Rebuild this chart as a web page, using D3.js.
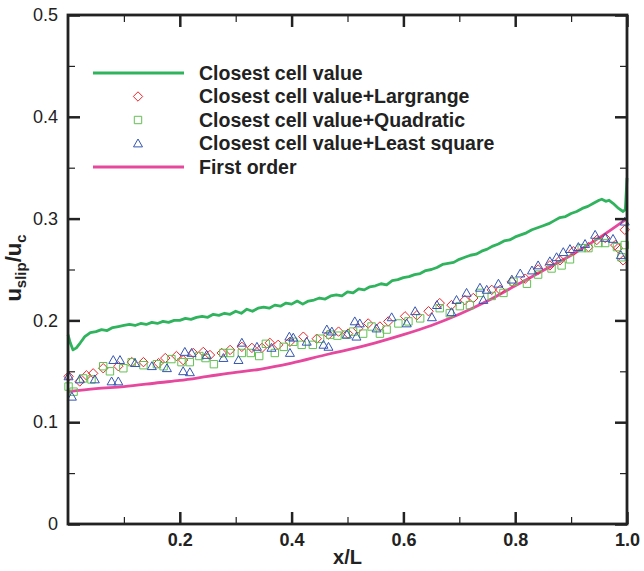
<!DOCTYPE html>
<html>
<head>
<meta charset="utf-8">
<script src="https://cdn.jsdelivr.net/npm/d3@7"></script>
<style>
  body { margin: 0; background: #fff; }
  svg { font-family: "Liberation Sans", Arial, sans-serif; }
</style>
</head>
<body>
<div id="chart"></div>
<script>
// values
const closestCell = [[0,0.186],[0.004,0.178],[0.009,0.171],[0.015,0.173],[0.022,0.178],[0.03,0.184],[0.04,0.188],[0.05,0.189],[0.06,0.191],[0.07,0.190],[0.08,0.193],[0.09,0.194],[0.1,0.195],[0.11,0.196],[0.12,0.195],[0.13,0.197],[0.14,0.196],[0.15,0.198],[0.16,0.197],[0.17,0.199],[0.18,0.198],[0.19,0.200],[0.2,0.200],[0.21,0.202],[0.22,0.201],[0.23,0.203],[0.24,0.204],[0.25,0.203],[0.26,0.206],[0.27,0.205],[0.28,0.207],[0.29,0.206],[0.3,0.209],[0.31,0.207],[0.32,0.211],[0.33,0.209],[0.34,0.212],[0.35,0.213],[0.36,0.212],[0.37,0.215],[0.38,0.214],[0.39,0.217],[0.4,0.216],[0.41,0.219],[0.42,0.216],[0.43,0.219],[0.44,0.220],[0.45,0.222],[0.46,0.221],[0.47,0.224],[0.48,0.225],[0.49,0.224],[0.5,0.228],[0.51,0.227],[0.52,0.231],[0.53,0.230],[0.54,0.233],[0.55,0.234],[0.56,0.236],[0.57,0.235],[0.58,0.239],[0.59,0.240],[0.6,0.242],[0.61,0.243],[0.62,0.245],[0.63,0.246],[0.64,0.249],[0.65,0.250],[0.66,0.252],[0.67,0.255],[0.68,0.256],[0.69,0.257],[0.7,0.260],[0.71,0.262],[0.72,0.264],[0.73,0.265],[0.74,0.268],[0.75,0.270],[0.76,0.273],[0.77,0.275],[0.78,0.278],[0.79,0.279],[0.8,0.282],[0.81,0.284],[0.82,0.286],[0.83,0.289],[0.84,0.291],[0.85,0.293],[0.86,0.295],[0.87,0.298],[0.88,0.301],[0.89,0.302],[0.9,0.305],[0.91,0.307],[0.92,0.310],[0.93,0.312],[0.94,0.315],[0.95,0.318],[0.955,0.319],[0.962,0.317],[0.968,0.318],[0.975,0.315],[0.985,0.310],[0.993,0.307],[0.997,0.309],[1.0,0.340]]

const firstOrder = [[0,0.130],[0.05,0.133],[0.1,0.135],[0.165,0.139],[0.2,0.141],[0.25,0.145],[0.3,0.149],[0.343,0.152],[0.4,0.158],[0.467,0.167],[0.5,0.171],[0.55,0.178],[0.6,0.186],[0.65,0.195],[0.7,0.206],[0.75,0.219],[0.8,0.234],[0.85,0.249],[0.9,0.264],[0.95,0.281],[1.0,0.300]]

const lagrange = [[0.001,0.145],[0.021,0.140],[0.033,0.146],[0.045,0.148],[0.063,0.153],[0.090,0.155],[0.114,0.159],[0.135,0.159],[0.162,0.158],[0.174,0.163],[0.194,0.165],[0.206,0.161],[0.224,0.168],[0.242,0.169],[0.254,0.166],[0.275,0.168],[0.290,0.171],[0.311,0.174],[0.329,0.173],[0.347,0.173],[0.361,0.178],[0.376,0.176],[0.397,0.179],[0.421,0.184],[0.445,0.182],[0.466,0.186],[0.484,0.189],[0.501,0.187],[0.519,0.192],[0.537,0.197],[0.558,0.194],[0.573,0.199],[0.603,0.204],[0.624,0.205],[0.645,0.209],[0.665,0.217],[0.686,0.215],[0.710,0.220],[0.725,0.222],[0.758,0.230],[0.773,0.230],[0.794,0.238],[0.818,0.241],[0.841,0.250],[0.862,0.254],[0.880,0.259],[0.904,0.268],[0.931,0.272],[0.946,0.279],[0.961,0.281],[0.979,0.274],[0.984,0.271],[0.993,0.259],[0.996,0.289]]

const quadratic = [[0.001,0.135],[0.010,0.130],[0.027,0.143],[0.042,0.142],[0.063,0.155],[0.075,0.150],[0.099,0.153],[0.114,0.159],[0.135,0.156],[0.159,0.157],[0.171,0.155],[0.185,0.162],[0.203,0.159],[0.218,0.159],[0.235,0.165],[0.246,0.163],[0.261,0.157],[0.278,0.168],[0.290,0.168],[0.311,0.168],[0.327,0.168],[0.342,0.165],[0.354,0.177],[0.370,0.168],[0.386,0.174],[0.403,0.179],[0.418,0.176],[0.438,0.176],[0.451,0.182],[0.469,0.186],[0.482,0.185],[0.497,0.186],[0.510,0.189],[0.528,0.187],[0.543,0.194],[0.558,0.187],[0.570,0.191],[0.591,0.197],[0.609,0.199],[0.630,0.202],[0.665,0.212],[0.683,0.207],[0.701,0.214],[0.719,0.215],[0.737,0.227],[0.758,0.224],[0.779,0.227],[0.797,0.238],[0.821,0.236],[0.841,0.245],[0.865,0.251],[0.883,0.254],[0.898,0.260],[0.919,0.271],[0.931,0.271],[0.949,0.276],[0.961,0.276],[0.982,0.272],[0.990,0.262],[0.996,0.274]]

const leastSquare = [[0.001,0.145],[0.007,0.125],[0.021,0.142],[0.048,0.142],[0.078,0.140],[0.081,0.161],[0.090,0.140],[0.093,0.161],[0.120,0.158],[0.150,0.155],[0.177,0.153],[0.206,0.150],[0.209,0.169],[0.218,0.149],[0.221,0.168],[0.248,0.166],[0.278,0.163],[0.305,0.161],[0.311,0.178],[0.338,0.174],[0.364,0.173],[0.396,0.184],[0.397,0.168],[0.403,0.183],[0.427,0.179],[0.457,0.176],[0.463,0.191],[0.466,0.174],[0.472,0.189],[0.499,0.186],[0.513,0.199],[0.516,0.184],[0.522,0.197],[0.552,0.192],[0.579,0.203],[0.606,0.197],[0.621,0.209],[0.651,0.203],[0.660,0.215],[0.686,0.208],[0.695,0.220],[0.713,0.227],[0.737,0.232],[0.743,0.220],[0.749,0.230],[0.770,0.236],[0.794,0.240],[0.809,0.246],[0.830,0.249],[0.841,0.254],[0.862,0.258],[0.874,0.262],[0.886,0.267],[0.898,0.270],[0.913,0.272],[0.925,0.275],[0.943,0.284],[0.961,0.281],[0.975,0.280],[0.989,0.264],[0.996,0.297]]

const xMajor = [0.2, 0.4, 0.6, 0.8, 1.0]
const xMinor = [0.1, 0.3, 0.5, 0.7, 0.9]
const yMajor = [0, 0.1, 0.2, 0.3, 0.4, 0.5]
const yMinor = [0.05, 0.15, 0.25, 0.35, 0.45]

const legendNames = ['Closest cell value', 'Closest cell value+Largrange', 'Closest cell value+Quadratic', 'Closest cell value+Least square', 'First order']

const width = 644, height = 571
const margin = { top: 15, right: 17, bottom: 47, left: 68 }
const w = width - margin.left - margin.right
const h = height - margin.top - margin.bottom

const GREEN = '#2fb35c', PINK = '#e6489e', RED = '#e8262d', LGREEN = '#63c154', BLUE = '#3555b3'

const svg = d3.select('#chart').append('svg')
  .attr('width', width).attr('height', height)
const g = svg.append('g').attr('transform', 'translate(' + margin.left + ',' + margin.top + ')')

const x = d3.scaleLinear().domain([0, 1]).range([0, w])
const y = d3.scaleLinear().domain([0, 0.5]).range([h, 0])

// lines
g.append('path').datum(firstOrder)
  .attr('d', d3.line().x(d => x(d[0])).y(d => y(d[1])).curve(d3.curveMonotoneX))
  .attr('fill', 'none').attr('stroke', PINK).attr('stroke-width', 2.8)
g.append('path').datum(closestCell)
  .attr('d', d3.line().x(d => x(d[0])).y(d => y(d[1])))
  .attr('fill', 'none').attr('stroke', GREEN).attr('stroke-width', 2.8)
  .attr('stroke-linejoin', 'round')

// markers
function diamond (s) { return 'M0,' + (-s) + 'L' + s + ',0L0,' + s + 'L' + (-s) + ',0Z' }
function square (s) { return 'M' + (-s) + ',' + (-s) + 'h' + 2 * s + 'v' + 2 * s + 'h' + (-2 * s) + 'Z' }
function triangle (s) { return 'M0,' + (-s) + 'L' + s + ',' + (s * 0.75) + 'L' + (-s) + ',' + (s * 0.75) + 'Z' }

const markerSets = [
  { data: lagrange, path: diamond(4.7), color: RED },
  { data: quadratic, path: square(3.7), color: LGREEN },
  { data: leastSquare, path: triangle(4.5), color: BLUE }
]
markerSets.forEach(function (m) {
  g.selectAll(null).data(m.data).enter().append('path')
    .attr('d', m.path)
    .attr('transform', d => 'translate(' + x(d[0]) + ',' + y(d[1]) + ')')
    .attr('fill', 'none').attr('stroke', m.color).attr('stroke-width', 1)
})

// axes
function styleAxis (sel, fsize, weight) {
  sel.select('.domain').remove()
  sel.selectAll('line').attr('stroke', '#222')
  sel.selectAll('text').attr('fill', '#222').style('font-size', fsize + 'px').style('font-weight', weight)
}
const axB = g.append('g').attr('transform', 'translate(0,' + h + ')')
  .call(d3.axisBottom(x).tickValues(xMajor).tickSize(-12).tickPadding(9).tickFormat(d3.format('.1f')))
styleAxis(axB, 18, 'bold')
axB.selectAll('line').attr('stroke-width', 2.5)
g.append('g').attr('transform', 'translate(0,' + h + ')')
  .call(d3.axisBottom(x).tickValues(xMinor).tickSize(-7).tickFormat(''))
  .call(s => styleAxis(s, 10, 'normal'))
  .selectAll('line').attr('stroke-width', 1.2)

const axT = g.append('g').call(d3.axisTop(x).tickValues(xMajor).tickSize(-12).tickFormat(''))
styleAxis(axT, 10, 'normal')
axT.selectAll('line').attr('stroke-width', 2.5)
g.append('g').call(d3.axisTop(x).tickValues(xMinor).tickSize(-7).tickFormat(''))
  .call(s => styleAxis(s, 10, 'normal'))
  .selectAll('line').attr('stroke-width', 1.2)

const axL = g.append('g').call(d3.axisLeft(y).tickValues(yMajor).tickSize(-12).tickPadding(10).tickFormat(d => d === 0 ? '0' : d3.format('.1f')(d)))
styleAxis(axL, 18, 'normal')
axL.selectAll('line').attr('stroke-width', 2.5)
g.append('g').call(d3.axisLeft(y).tickValues(yMinor).tickSize(-7).tickFormat(''))
  .call(s => styleAxis(s, 10, 'normal'))
  .selectAll('line').attr('stroke-width', 1.2)

const axR = g.append('g').attr('transform', 'translate(' + w + ',0)')
  .call(d3.axisRight(y).tickValues(yMajor).tickSize(-12).tickFormat(''))
styleAxis(axR, 10, 'normal')
axR.selectAll('line').attr('stroke-width', 2.5)
g.append('g').attr('transform', 'translate(' + w + ',0)')
  .call(d3.axisRight(y).tickValues(yMinor).tickSize(-7).tickFormat(''))
  .call(s => styleAxis(s, 10, 'normal'))
  .selectAll('line').attr('stroke-width', 1.2)

// frame
g.append('rect').attr('width', w).attr('height', h)
  .attr('fill', 'none').attr('stroke', '#222').attr('stroke-width', 2.8)

// axis titles
g.append('text')
  .attr('x', w / 2).attr('y', h + 40)
  .attr('text-anchor', 'middle')
  .style('font-size', '20px').style('font-weight', 'bold').attr('fill', '#222')
  .text('x/L')

const yt = svg.append('text')
  .attr('transform', 'translate(21,268) rotate(-90)')
  .attr('text-anchor', 'middle')
  .style('font-weight', 'bold').attr('fill', '#222')
yt.append('tspan').style('font-size', '22px').text('u')
yt.append('tspan').style('font-size', '15px').attr('dy', 5).text('slip')
yt.append('tspan').style('font-size', '22px').attr('dy', -5).text('/u')
yt.append('tspan').style('font-size', '15px').attr('dy', 5).text('c')

// legend
const leg = svg.append('g')
const rowY = [73, 96.5, 120, 143.5, 167]
legendNames.forEach(function (name, i) {
  const yy = rowY[i]
  if (i === 0 || i === 4) {
    leg.append('line').attr('x1', 93).attr('x2', 184).attr('y1', yy).attr('y2', yy)
      .attr('stroke', i === 0 ? GREEN : PINK).attr('stroke-width', 2.8)
  } else {
    const m = markerSets[i - 1]
    leg.append('path').attr('d', m.path).attr('transform', 'translate(138,' + yy + ')')
      .attr('fill', 'none').attr('stroke', m.color).attr('stroke-width', 1)
  }
  leg.append('text').attr('x', 199).attr('y', yy + 6.5)
    .style('font-size', '19.5px').style('font-weight', 'bold').attr('fill', '#222')
    .text(name)
})
</script>
</body>
</html>
